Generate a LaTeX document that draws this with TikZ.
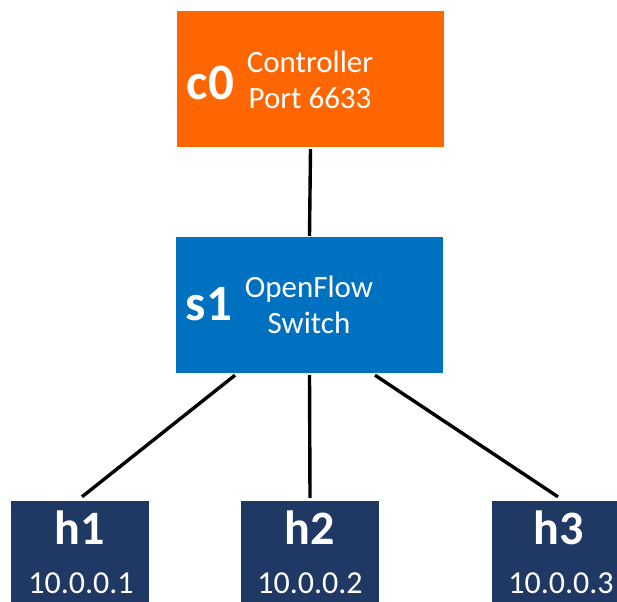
\documentclass[tikz,border=0pt]{standalone}
\usepackage{fontspec}
\setmainfont{Carlito}
\usepackage{tikz}

\definecolor{ctrlorange}{HTML}{FF6600}
\definecolor{switchblue}{HTML}{0070C0}
\definecolor{hostnavy}{HTML}{1F3864}

\begin{document}
\begin{tikzpicture}[x=1pt,y=-1pt]
            \useasboundingbox (0,0) rectangle (617,601);
            \clip (0,0) rectangle (617,601);
            \begin{scope}[every node/.style={rectangle, inner sep=0pt, minimum width=267pt, minimum height=136pt}]
                \node[fill=ctrlorange] (c0) at (310.5,79) {};
                \node[fill=switchblue] (s1) at (309.5,305) {};
            \end{scope}
            \begin{scope}[every node/.style={fill=hostnavy, rectangle, inner sep=0pt, minimum width=138pt, minimum height=112pt}]
                \node (h1) at (80,557) {};
                \node (h2) at (310,557) {};
                \node (h3) at (561,557) {};
            \end{scope}
            \begin{scope}[every node/.style={text=white, inner sep=0pt, anchor=base}]
                \node[font=\fontsize{51}{51}\selectfont\bfseries] (c0name) at (210.5,100) {c0};
                \node[font=\fontsize{31}{36}\selectfont, align=center, anchor=center] (c0text) at (310,80) {Controller\\Port 6633};

                \node[font=\fontsize{51}{51}\selectfont\bfseries] (s1name) at (209,320) {s1};
                \node[font=\fontsize{31}{36}\selectfont, align=center, anchor=center] (s1text) at (309,305) {OpenFlow\\Switch};

                \node[font=\fontsize{48}{48}\selectfont\bfseries] (h1name) at (80,544) {h1};
                \node[font=\fontsize{48}{48}\selectfont\bfseries] (h2name) at (310,544) {h2};
                \node[font=\fontsize{48}{48}\selectfont\bfseries] (h3name) at (559,544) {h3};

                \node[font=\fontsize{32}{32}\selectfont] (h1ip) at (81,593) {10.0.0.1};
                \node[font=\fontsize{32}{32}\selectfont] (h2ip) at (310,593) {10.0.0.2};
                \node[font=\fontsize{32}{32}\selectfont] (h3ip) at (561,593) {10.0.0.3};
            \end{scope}
            \begin{scope}[every edge/.style={draw, line width=3.4pt}]
                \path [-] ([yshift=-2pt]c0.south) edge ([yshift=1pt]s1.north);
                \path [-] ([xshift=-74.5pt, yshift=-2pt]s1.south) edge ([xshift=2pt, yshift=4pt]h1.north);
                \path [-] ([yshift=-2pt]s1.south) edge ([yshift=3pt]h2.north);
                \path [-] ([xshift=65.5pt, yshift=-2pt]s1.south) edge ([xshift=-3pt, yshift=4pt]h3.north);
            \end{scope}
        \end{tikzpicture}
\end{document}
